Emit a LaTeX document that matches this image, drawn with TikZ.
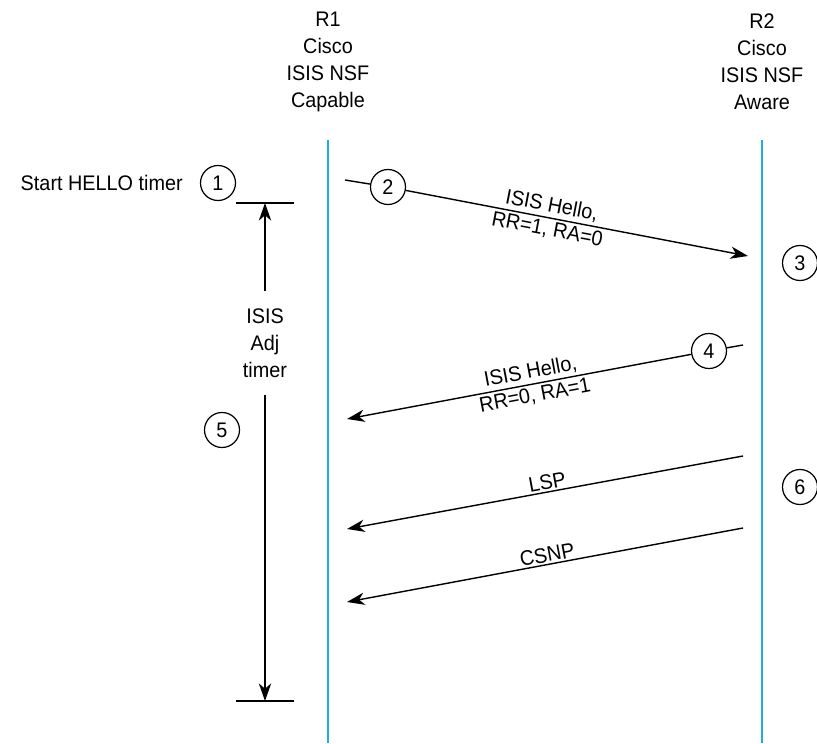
\documentclass[tikz,border=0pt]{standalone}
\usepackage{fontspec}
\setmainfont[FakeStretch=0.94]{Liberation Sans}
\usepackage{tikz}
\usetikzlibrary{arrows.meta, positioning}

\definecolor{lifecyan}{RGB}{32,174,226}

\begin{document}
\begin{tikzpicture}[
    >={Stealth[length=10pt, width=7pt, inset=3pt]},
    num/.style={circle, draw, fill=white, minimum size=0.7cm, inner sep=0pt, line width=0.7pt},
    msg/.style={line width=0.8pt},
    lifeline/.style={lifecyan, line width=1.6pt},
    every node/.style={font=\fontsize{12}{15.3}\selectfont}
  ]
  \useasboundingbox (0,0) rectangle (16.34,14.86);

  % Routers
  \node[align=center] (r1) at (6.56,13.62) {R1\\Cisco\\ISIS NSF\\Capable};
  \node[align=center] (r2) at (15.24,13.62) {R2\\Cisco\\ISIS NSF\\Aware};
  \coordinate (r1top) at (6.56,12.06);
  \coordinate (r1bot) at (6.56,0);
  \coordinate (r2top) at (15.24,12.06);
  \coordinate (r2bot) at (15.24,0);
  \draw[lifeline] (r1top) -- (r1bot);
  \draw[lifeline] (r2top) -- (r2bot);

  % Steps
  \node[num] (s1) at (4.36,11.2) {1};
  \node[left=0.22cm of s1] (hello) {Start HELLO timer};
  \node[num] (s2) at (7.76,11.12) {2};
  \node[num] (s3) at (16.0,9.6) {3};
  \node[num] (s4) at (14.18,7.84) {4};
  \node[num] (s5) at (4.44,6.26) {5};
  \node[num] (s6) at (16.0,5.12) {6};

  % Adjacency timer
  \coordinate (ttop) at (5.3,10.8);
  \coordinate (tbot) at (5.3,0.84);
  \node[align=center, inner ysep=10pt] (adj) at (5.3,8.0) {ISIS\\Adj\\timer};
  \draw[msg, ->] (adj) -- (ttop);
  \draw[msg, ->] (adj) -- (tbot);
  \draw[msg] ([xshift=-0.58cm]ttop) -- ([xshift=0.58cm]ttop);
  \draw[msg] ([xshift=-0.58cm]tbot) -- ([xshift=0.58cm]tbot);

  % Messages
  \coordinate (m2s) at (6.9,11.26);
  \coordinate (m2e) at (14.96,9.74);
  \draw[msg] (m2s) -- (s2);
  \draw[msg, ->] (s2) -- node[sloped, above, pos=0.42, inner sep=1.5pt] {ISIS Hello,}
    node[sloped, below, pos=0.42, inner sep=1.5pt] {RR=1, RA=0} (m2e);

  \coordinate (m4s) at (14.86,7.96);
  \coordinate (m4e) at (6.94,6.48);
  \draw[msg] (m4s) -- (s4);
  \draw[msg, ->] (s4) -- node[sloped, above, pos=0.46, inner sep=1.5pt] {ISIS Hello,}
    node[sloped, below, pos=0.46, inner sep=1.5pt] {RR=0, RA=1} (m4e);

  \coordinate (lsps) at (14.86,5.74);
  \coordinate (lspe) at (6.94,4.28);
  \draw[msg, ->] (lsps) -- node[sloped, above, pos=0.49, inner sep=1pt] {LSP} (lspe);

  \coordinate (csnps) at (14.86,4.3);
  \coordinate (csnpe) at (6.94,2.82);
  \draw[msg, ->] (csnps) -- node[sloped, above, pos=0.49, inner sep=1pt] {CSNP} (csnpe);
\end{tikzpicture}
\end{document}
